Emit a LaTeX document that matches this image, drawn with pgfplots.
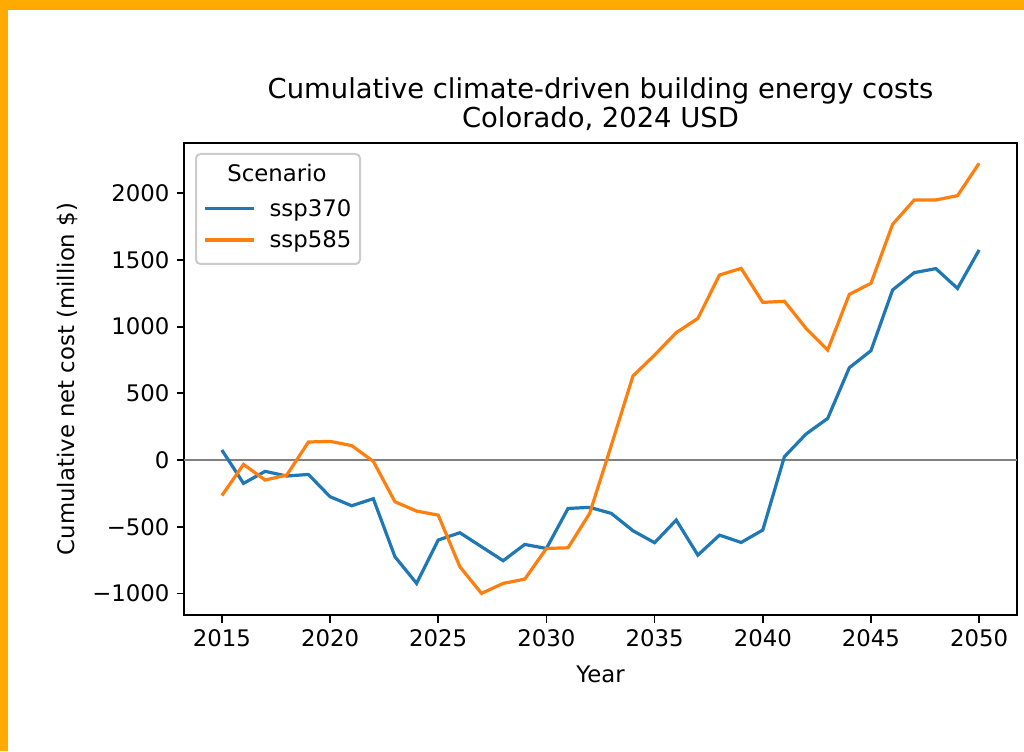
\documentclass[border=0pt]{standalone}
\usepackage{pgfplots}
\pgfplotsset{compat=1.18}
\usepackage{fontspec}
\setmainfont{DejaVu Sans}

\definecolor{tabblue}{HTML}{1F77B4}
\definecolor{taborange}{HTML}{FF7F0E}
\definecolor{framecol}{HTML}{FFAA00}
\definecolor{legendedge}{HTML}{CCCCCC}

\newcommand{\tickfont}{\fontsize{11.4}{13.7}\selectfont}
\newcommand{\titlefont}{\fontsize{13.7}{16.4}\selectfont}

\begin{document}
\begin{tikzpicture}
% page: 1024 x 751 px, 1 px = 0.5pt
\fill[framecol] (0pt,0pt) rectangle (512pt,375.5pt);
\fill[white] (4pt,0pt) rectangle (512pt,370.5pt);

\begin{axis}[
    at={(92pt,68pt)}, anchor=south west,
    scale only axis,
    width=416.5pt, height=236pt,
    xmin=2013.25, xmax=2051.75,
    ymin=-1162, ymax=2377,
    xtick={2015,2020,...,2050},
    xticklabels={2015,2020,2025,2030,2035,2040,2045,2050},
    ytick={-1000,-500,...,2000},
    yticklabels={−1000,−500,0,500,1000,1500,2000},
    tick align=outside, tick pos=left,
    major tick length=3.75pt,
    every tick/.style={black, line width=0.86pt},
    axis line style={line width=0.86pt},
    tick label style={font=\tickfont},
    label style={font=\tickfont},
    xlabel={Year},
    xlabel style={at={(axis description cs:0.5,-0.125)}, anchor=center},
    ylabel={Cumulative net cost (million \$)},
    ylabel style={at={(axis description cs:-0.1393,0.5)}, anchor=center},
    legend cell align=left,
    legend image code/.code={\draw[#1] (0pt,1.3pt) -- (24.5pt,1.3pt);},
    legend style={
        at={(axis description cs:0.0228,0.822)}, anchor=west,
        draw=none, fill=none, inner sep=0pt,
        row sep=5.6pt, column sep=7pt,
        font=\tickfont,
        nodes={inner sep=0pt, text height=0.75em, text depth=0.25em},
    },
]

% zero line
\addplot[gray, line width=0.9pt, forget plot] coordinates {(2013.25,0) (2051.75,0)};

% ssp370
\addplot[tabblue, line width=1.6pt] coordinates {
    (2015,75) (2016,-175) (2017,-85) (2018,-120) (2019,-108) (2020,-275)
    (2021,-343) (2022,-290) (2023,-725) (2024,-925) (2025,-600) (2026,-545)
    (2027,-650) (2028,-755) (2029,-633) (2030,-663) (2031,-363) (2032,-355)
    (2033,-400) (2034,-530) (2035,-620) (2036,-450) (2037,-713) (2038,-563)
    (2039,-618) (2040,-525) (2041,25) (2042,195) (2043,312) (2044,692)
    (2045,820) (2046,1275) (2047,1405) (2048,1435) (2049,1287) (2050,1575)
};

% ssp585
\addplot[taborange, line width=1.6pt] coordinates {
    (2015,-267) (2016,-33) (2017,-150) (2018,-113) (2019,135) (2020,140)
    (2021,108) (2022,-10) (2023,-313) (2024,-383) (2025,-413) (2026,-800)
    (2027,-1000) (2028,-925) (2029,-893) (2030,-663) (2031,-658) (2032,-400)
    (2033,110) (2034,630) (2035,787) (2036,955) (2037,1062) (2038,1387)
    (2039,1437) (2040,1182) (2041,1190) (2042,987) (2043,825) (2044,1242)
    (2045,1325) (2046,1767) (2047,1950) (2048,1950) (2049,1982) (2050,2225)
};

\legend{ssp370, ssp585}
\end{axis}

% pixel coordinates from the top left corner
\begin{scope}[shift={(0pt,375.5pt)}, x=0.5pt, y=-0.5pt]
  \draw[legendedge, line width=1pt, rounded corners=2.2pt] (196,154) rectangle (360,264);
  \node[font=\tickfont, inner sep=0pt, anchor=center] at (277,173) {Scenario};
  \node[font=\titlefont, inner sep=0pt, anchor=base] at (600.5,99) {Cumulative climate-driven building energy costs};
  \node[font=\titlefont, inner sep=0pt, anchor=base] at (600.5,128) {Colorado, 2024 USD};
\end{scope}

\pgfresetboundingbox
\useasboundingbox (0pt,0pt) rectangle (512pt,375.5pt);
\end{tikzpicture}
\end{document}
